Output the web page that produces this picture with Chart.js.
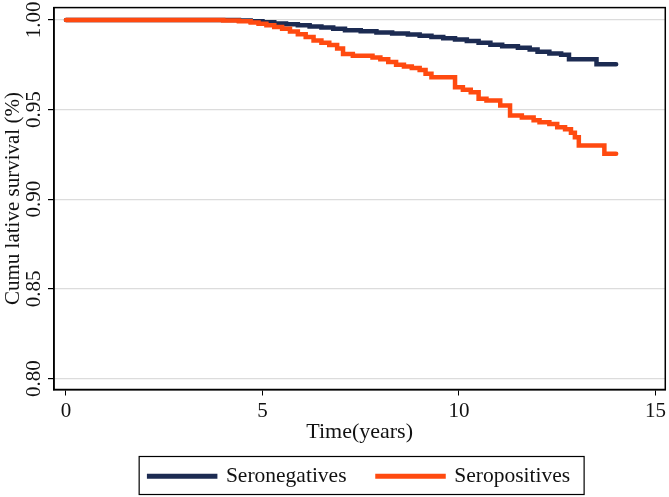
<!DOCTYPE html>
<html>
<head>
<meta charset="utf-8">
<script src="https://cdn.jsdelivr.net/npm/chart.js@4/dist/chart.umd.min.js"></script>
<style>
  html, body { margin: 0; padding: 0; background: #fff; }
  #wrap { width: 669px; height: 497px; }
</style>
</head>
<body>
<div id="wrap"><canvas id="survivalChart" width="669" height="497"></canvas></div>
<script>
// Kaplan-Meier style survival
const seriesNames = ['Seronegatives', 'Seropositives'];

const negTimes = [0, 4.4, 4.7, 5.0, 5.3, 5.6, 5.9, 6.2, 6.5, 6.8, 7.1, 7.5, 7.9, 8.3, 8.7, 9.0, 9.3, 9.6, 9.9, 10.2, 10.5, 10.8, 11.1, 11.5, 11.8, 12.0, 12.3, 12.6, 12.8, 13.5, 14.0];
const negSurvival = [1.0, 0.9996, 0.9992, 0.9987, 0.998, 0.9975, 0.997, 0.9963, 0.9957, 0.995, 0.9942, 0.9936, 0.993, 0.9924, 0.9918, 0.9912, 0.9905, 0.9898, 0.989, 0.9882, 0.9872, 0.9862, 0.9853, 0.9845, 0.9835, 0.9822, 0.9812, 0.9805, 0.978, 0.9753, 0.9753];

const posTimes = [0, 4.0, 4.4, 4.7, 4.9, 5.1, 5.3, 5.5, 5.7, 5.9, 6.1, 6.3, 6.5, 6.7, 6.9, 7.05, 7.3, 7.8, 8.0, 8.2, 8.4, 8.6, 8.8, 9.0, 9.15, 9.3, 9.9, 10.1, 10.3, 10.5, 10.7, 11.05, 11.3, 11.6, 11.9, 12.05, 12.3, 12.5, 12.7, 12.85, 12.95, 13.05, 13.7, 14.0];
const posSurvival = [1.0, 0.9996, 0.9992, 0.9985, 0.9978, 0.997, 0.996, 0.995, 0.9935, 0.992, 0.9905, 0.9885, 0.9872, 0.986, 0.984, 0.981, 0.980, 0.979, 0.978, 0.9765, 0.975, 0.974, 0.9732, 0.972, 0.970, 0.968, 0.9625, 0.961, 0.9597, 0.956, 0.955, 0.9522, 0.9467, 0.9455, 0.944, 0.9429, 0.942, 0.9401, 0.939, 0.937, 0.9346, 0.930, 0.9253, 0.9253];

const xTicks = [0, 5, 10, 15];
const yTicks = [0.80, 0.85, 0.90, 0.95, 1.00];

const FONT = "'Liberation Serif', 'Times New Roman', serif";
const NAVY = '#1c2b52';
const ORANGE = '#ff4a10';

function toPoints(times, values) {
    return times.map((t, i) => ({ x: t, y: values[i] }));
}

// box around the plot area
const frame = {
    id: 'frame',
    afterDatasetsDraw(chart) {
        const { ctx, chartArea: a } = chart;
        ctx.save();
        ctx.strokeStyle = '#000';
        ctx.lineWidth = 1.5;
        ctx.strokeRect(a.left, a.top, a.right - a.left, a.bottom - a.top);
        ctx.restore();
    }
};

// box around the legend items
const legendBox = {
    id: 'legendBox',
    afterDraw(chart) {
        const hits = chart.legend && chart.legend.legendHitBoxes;
        if (!hits || !hits.length) return;
        const ctx = chart.ctx;
        const left = Math.min(...hits.map(h => h.left)) - 10;
        const right = Math.max(...hits.map(h => h.left + h.width)) + 14;
        const top = Math.min(...hits.map(h => h.top)) - 9;
        ctx.save();
        ctx.strokeStyle = '#000';
        ctx.lineWidth = 1.2;
        ctx.strokeRect(left, top, right - left, 38);
        ctx.restore();
    }
};

new Chart(document.getElementById('survivalChart').getContext('2d'), {
    type: 'line',
    data: {
        datasets: [
            {
                label: seriesNames[1],
                data: toPoints(posTimes, posSurvival),
                borderColor: ORANGE,
                backgroundColor: ORANGE,
                borderWidth: 4.5,
                borderCapStyle: 'round',
                stepped: true,
                pointRadius: 0,
                fill: false
            },
            {
                label: seriesNames[0],
                data: toPoints(negTimes, negSurvival),
                borderColor: NAVY,
                backgroundColor: NAVY,
                borderWidth: 4.5,
                borderCapStyle: 'round',
                stepped: true,
                pointRadius: 0,
                fill: false
            }
        ]
    },
    options: {
        responsive: false,
        animation: false,
        layout: { padding: { left: 0, right: 3, top: 7, bottom: 0 } },
        plugins: {
            tooltip: { enabled: false },
            legend: {
                position: 'bottom',
                fullSize: false,
                reverse: true,
                maxHeight: 63,
                labels: {
                    boxWidth: 66,
                    boxHeight: 0.5,
                    padding: 31,
                    color: '#111',
                    font: { family: FONT, size: 21.5 }
                }
            }
        },
        scales: {
            x: {
                type: 'linear',
                min: -0.305,
                max: 15.25,
                afterFit(scale) { scale.height = 45; },
                afterBuildTicks(scale) { scale.ticks = xTicks.map(v => ({ value: v })); },
                border: { display: true, color: '#000', width: 1.5 },
                grid: { drawOnChartArea: false, drawTicks: true, tickLength: 6, tickColor: '#000' },
                ticks: { color: '#111', padding: 3, font: { family: FONT, size: 21 } },
                title: {
                    display: true,
                    text: 'Time(years)',
                    color: '#111',
                    font: { family: FONT, size: 22 },
                    padding: { top: 0, bottom: -11 }
                }
            },
            y: {
                min: 0.7939,
                max: 1.00685,
                afterFit(scale) { scale.width = 54; },
                afterBuildTicks(scale) { scale.ticks = yTicks.map(v => ({ value: v })); },
                border: { display: true, color: '#000', width: 1.5 },
                grid: { color: '#dcdcdc', lineWidth: 1.2, tickLength: 6, tickColor: '#000' },
                ticks: {
                    color: '#111',
                    minRotation: 90,
                    maxRotation: 90,
                    crossAlign: 'center',
                    padding: -5,
                    font: { family: FONT, size: 21 },
                    callback: v => v.toFixed(2)
                },
                title: {
                    display: true,
                    text: 'Cumu lative survival (%)',
                    color: '#111',
                    font: { family: FONT, size: 21 },
                    padding: { top: 1, bottom: 0 }
                }
            }
        }
    },
    plugins: [frame, legendBox]
});
</script>
</body>
</html>
